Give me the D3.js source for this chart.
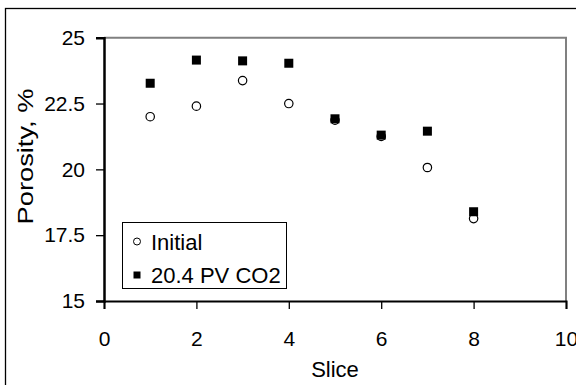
<!DOCTYPE html>
<html>
<head>
<meta charset="utf-8">
<script src="https://cdn.jsdelivr.net/npm/d3@7"></script>
<style>
  html, body { margin: 0; padding: 0; background: #fff; }
  svg { display: block; font-family: "Liberation Sans", Arial, sans-serif; }
</style>
</head>
<body>
<div id="chart"></div>
<script>
// porosity per slice
const slices = [1, 2, 3, 4, 5, 6, 7, 8];
const initial = [22.0, 22.4, 23.37, 22.5, 21.87, 21.25, 20.07, 18.13];
const afterCO2 = [23.27, 24.15, 24.12, 24.03, 21.92, 21.3, 21.45, 18.39];
const xTicks = [0, 2, 4, 6, 8, 10];
const yTicks = [15, 17.5, 20, 22.5, 25];

const width = 576, height = 385;
const plotLeft = 104, plotRight = 566, plotTop = 37.7, plotBottom = 301;

const svg = d3.select("#chart").append("svg")
  .attr("width", width).attr("height", height);

// outer chart frame (runs off the canvas right and bottom)
svg.append("rect")
  .attr("x", 5.5).attr("y", 8.5)
  .attr("width", 600).attr("height", 400)
  .attr("fill", "none").attr("stroke", "#000").attr("stroke-width", 1.3);

const x = d3.scaleLinear().domain([0, 10]).range([plotLeft, plotRight]);
const y = d3.scaleLinear().domain([15, 25]).range([plotBottom, plotTop]);

// plot area border, top and right in grey
svg.append("path")
  .attr("d", `M${plotLeft},${plotTop}H${plotRight}V${plotBottom}`)
  .attr("fill", "none").attr("stroke", "#808080").attr("stroke-width", 2);

const xAxis = svg.append("g")
  .attr("transform", `translate(0,${plotBottom})`)
  .call(d3.axisBottom(x).tickValues(xTicks).tickSize(8).tickPadding(22).tickFormat(d3.format("d")));
xAxis.select(".domain").attr("stroke", "#000").attr("stroke-width", 2);
xAxis.selectAll(".tick line").attr("stroke", "#000").attr("stroke-width", 1.3);
xAxis.selectAll(".tick text").attr("font-size", 21).attr("fill", "#000")
  .attr("font-family", "Liberation Sans, Arial, sans-serif");

const yAxis = svg.append("g")
  .attr("transform", `translate(${plotLeft},0)`)
  .call(d3.axisLeft(y).tickValues(yTicks).tickSize(8).tickPadding(11).tickFormat(d => String(d)));
yAxis.select(".domain").attr("stroke", "#000").attr("stroke-width", 2.5);
yAxis.selectAll(".tick line").attr("stroke", "#000").attr("stroke-width", 1.3);
yAxis.selectAll(".tick text").attr("font-size", 21).attr("fill", "#000")
  .attr("font-family", "Liberation Sans, Arial, sans-serif");

// axis titles
svg.append("text")
  .attr("x", (plotLeft + plotRight) / 2).attr("y", 377)
  .attr("text-anchor", "middle").attr("font-size", 22)
  .text("Slice");

svg.append("text")
  .attr("transform", `translate(32.5,156.5) rotate(-90)`)
  .attr("text-anchor", "middle").attr("font-size", 22)
  .attr("textLength", 136).attr("lengthAdjust", "spacingAndGlyphs")
  .text("Porosity, %");

// series
svg.append("g").selectAll("circle")
  .data(slices.map((s, i) => [s, initial[i]]))
  .join("circle")
  .attr("cx", d => x(d[0])).attr("cy", d => y(d[1]))
  .attr("r", 4.2)
  .attr("fill", "#fff").attr("stroke", "#000").attr("stroke-width", 1.2);

const sq = 9;
svg.append("g").selectAll("rect")
  .data(slices.map((s, i) => [s, afterCO2[i]]))
  .join("rect")
  .attr("x", d => x(d[0]) - sq / 2).attr("y", d => y(d[1]) - sq / 2)
  .attr("width", sq).attr("height", sq)
  .attr("fill", "#000");

// legend
const legend = svg.append("g");
legend.append("rect")
  .attr("x", 122.5).attr("y", 222.5).attr("width", 164).attr("height", 66)
  .attr("fill", "#fff").attr("stroke", "#000").attr("stroke-width", 1);
legend.append("circle")
  .attr("cx", 137).attr("cy", 241.5).attr("r", 3.5)
  .attr("fill", "#fff").attr("stroke", "#000").attr("stroke-width", 1);
legend.append("rect")
  .attr("x", 133.5).attr("y", 271.5).attr("width", 7).attr("height", 7)
  .attr("fill", "#000");
legend.append("text").attr("x", 151).attr("y", 250).attr("font-size", 22).text("Initial");
legend.append("text").attr("x", 151).attr("y", 283).attr("font-size", 22).text("20.4 PV CO2");
</script>
</body>
</html>
